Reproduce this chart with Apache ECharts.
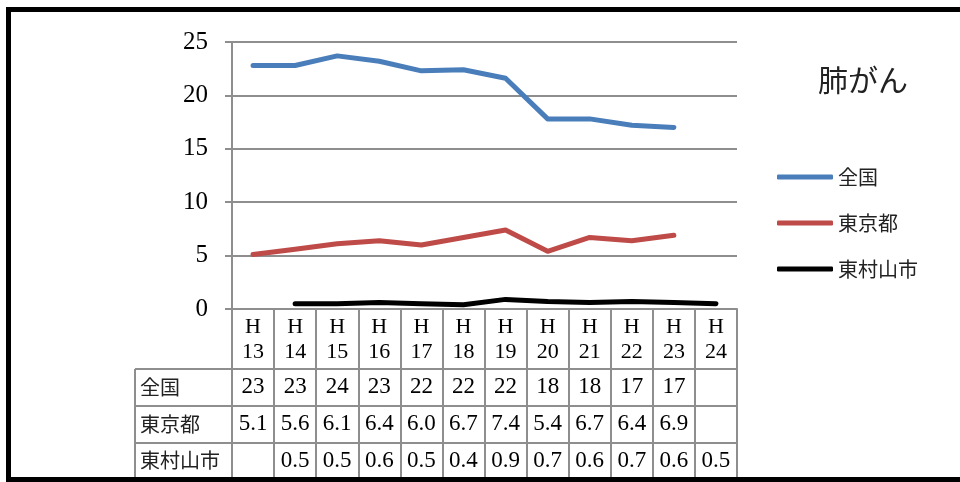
<!DOCTYPE html>
<html>
<head>
<meta charset="utf-8">
<script src="https://cdn.jsdelivr.net/npm/echarts@6/dist/echarts.min.js"></script>
<style>
html,body{margin:0;padding:0;background:#fff;}
#main{width:960px;height:482px;}
</style>
</head>
<body>
<div id="main"></div>
<script>
const categories = ['H13','H14','H15','H16','H17','H18','H19','H20','H21','H22','H23','H24'];
const seriesNames = ['全国','東京都','東村山市'];
const zenkoku = [22.8, 22.8, 23.7, 23.2, 22.3, 22.4, 21.6, 17.8, 17.8, 17.2, 17.0, null];
const tokyo = [5.1, 5.6, 6.1, 6.4, 6.0, 6.7, 7.4, 5.4, 6.7, 6.4, 6.9, null];
const higashimurayama = [null, 0.5, 0.5, 0.6, 0.5, 0.4, 0.9, 0.7, 0.6, 0.7, 0.6, 0.5];
const rowDecimals = [0, 1, 1];
const yMin = 0, yMax = 25, yStep = 5;
const titleText = '肺がん';

const seriesData = [zenkoku, tokyo, higashimurayama];
const colors = ['#4a7ebb', '#be4b48', '#000000'];
const gridColor = '#8e8e8e';
const serif = '"Liberation Serif", "DejaVu Serif", serif';
const cjk = '"Noto Sans CJK JP", "Noto Sans", sans-serif';

const tableData = [];
seriesData.forEach((arr, r) => {
  arr.forEach((v, i) => {
    if (v !== null && v !== undefined) {
      tableData.push({
        value: [i, r],
        cellText: rowDecimals[r] === 0 ? String(Math.round(v)) : v.toFixed(rowDecimals[r])
      });
    }
  });
});

const chart = echarts.init(document.getElementById('main'), null, {renderer: 'canvas'});
chart.setOption({
  animation: false,
  backgroundColor: '#fff',
  title: {
    text: titleText,
    left: 818, top: 65, padding: 0,
    textStyle: {fontFamily: cjk, fontSize: 30, fontWeight: 'normal', color: '#222'}
  },
  legend: {
    orient: 'vertical',
    left: 772, top: 162,
    icon: 'roundRect',
    itemWidth: 56, itemHeight: 5,
    itemGap: 26,
    data: seriesNames,
    textStyle: {fontFamily: cjk, fontSize: 20, color: '#222'}
  },
  grid: [
    {left: 232, top: 42, width: 505, height: 267, containLabel: false},
    {left: 232, top: 369, width: 505, height: 110, containLabel: false}
  ],
  xAxis: [
    {
      gridIndex: 0, type: 'category', data: categories, boundaryGap: true,
      axisLine: {show: true, lineStyle: {color: gridColor, width: 2}},
      axisTick: {show: true, interval: 0, length: 170, lineStyle: {color: gridColor, width: 2}},
      axisLabel: {
        interval: 0, margin: 6, color: '#000',
        fontFamily: serif, fontSize: 22, lineHeight: 25,
        formatter: v => v.slice(0, 1) + '\n' + v.slice(1)
      },
      splitLine: {show: false}
    },
    {
      gridIndex: 1, type: 'category', data: categories, boundaryGap: true, position: 'top',
      axisLine: {show: true, lineStyle: {color: gridColor, width: 2}},
      axisTick: {show: false}, axisLabel: {show: false}, splitLine: {show: false}
    }
  ],
  yAxis: [
    {
      gridIndex: 0, type: 'value', min: yMin, max: yMax, interval: yStep,
      axisLine: {show: true, lineStyle: {color: gridColor, width: 2}},
      axisTick: {show: true, length: 7, lineStyle: {color: gridColor, width: 2}},
      axisLabel: {margin: 24, color: '#000', fontFamily: serif, fontSize: 25},
      splitLine: {show: true, lineStyle: {color: gridColor, width: 2}}
    },
    {
      gridIndex: 1, type: 'category', data: seriesNames, inverse: true, boundaryGap: true,
      axisLine: {show: true, lineStyle: {color: gridColor, width: 2}},
      axisTick: {show: true, interval: 0, length: 97, lineStyle: {color: gridColor, width: 2}},
      axisLabel: {interval: 0, align: 'left', margin: 92, color: '#222', fontFamily: cjk, fontSize: 20},
      splitLine: {show: true, interval: 0, lineStyle: {color: gridColor, width: 2}}
    }
  ],
  series: seriesData.map((arr, k) => ({
    name: seriesNames[k], type: 'line', xAxisIndex: 0, yAxisIndex: 0,
    data: arr, showSymbol: false, symbol: 'none', connectNulls: false,
    color: colors[k],
    lineStyle: {width: 5, color: colors[k], cap: 'round', join: 'round'},
    itemStyle: {color: colors[k]}
  })).concat([{
    name: 'table', type: 'scatter', xAxisIndex: 1, yAxisIndex: 1,
    data: tableData, symbolSize: 2, itemStyle: {color: 'rgba(0,0,0,0)'},
    label: {
      show: true, position: 'inside', formatter: p => p.data.cellText,
      color: '#000', fontFamily: serif, fontSize: 23, opacity: 1
    },
    silent: true, z: 10
  }]),
  graphic: [
    {type: 'line', shape: {x1: 135, y1: 369, x2: 135, y2: 479}, style: {stroke: gridColor, lineWidth: 2}},
    {type: 'polyline', shape: {points: [[965, 9.5], [8.5, 9.5], [8.5, 479.5], [965, 479.5]]}, style: {stroke: '#000', lineWidth: 5, fill: null}, z: 100}
  ]
});
</script>
</body>
</html>
